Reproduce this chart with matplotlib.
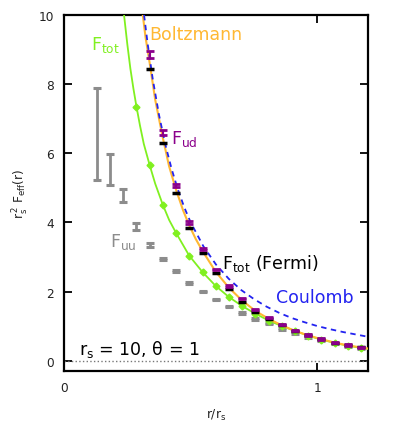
import numpy as np
import matplotlib.pyplot as plt

# r/r_s grid of the simulation points
x_pts = [0.129, 0.181, 0.233, 0.286, 0.338, 0.390, 0.442, 0.494, 0.547, 0.599, 0.651,
         0.703, 0.755, 0.808, 0.860, 0.912, 0.964, 1.016, 1.069, 1.121, 1.173]

# F_uu (gray), all points
uu_y = [6.56, 5.53, 4.78, 3.89, 3.35, 2.93, 2.59, 2.25, 2.00, 1.77, 1.57,
        1.38, 1.21, 1.07, 0.92, 0.80, 0.68, 0.58, 0.49, 0.42, 0.36]
uu_err = [1.32, 0.44, 0.19, 0.10, 0.06, 0.03, 0.02, 0.02, 0.02, 0.02, 0.02,
          0.02, 0.02, 0.02, 0.02, 0.02, 0.02, 0.02, 0.02, 0.02, 0.02]

# F_ud (purple), from 5th point
ud_y = [8.85, 6.61, 5.07, 4.00, 3.22, 2.63, 2.16, 1.79, 1.48, 1.24, 1.04,
        0.87, 0.74, 0.63, 0.53, 0.45, 0.38]
ud_err = [0.10, 0.07, 0.05, 0.04, 0.03, 0.02, 0.02, 0.02, 0.02, 0.02, 0.02,
          0.02, 0.02, 0.02, 0.02, 0.02, 0.02]

# F_tot Fermi (black), from 5th point
fermi_y = [8.44, 6.29, 4.86, 3.84, 3.12, 2.53, 2.08, 1.71, 1.42, 1.21, 1.02,
           0.86, 0.73, 0.62, 0.52, 0.44, 0.38]

# F_tot (green points), from 4th point
tot_y = [7.35, 5.66, 4.51, 3.70, 3.04, 2.56, 2.16, 1.84, 1.58, 1.36, 1.16,
         1.00, 0.86, 0.71, 0.60, 0.50, 0.43, 0.37]

# smooth curves
tot_cx = [0.237, 0.250, 0.262, 0.274, 0.286, 0.300, 0.315, 0.338, 0.36, 0.390, 0.415, 0.442,
          0.494, 0.547, 0.599, 0.651, 0.703, 0.755, 0.808, 0.860, 0.912, 0.964,
          1.016, 1.069, 1.121, 1.173, 1.2]
tot_cy = [10.0, 9.15, 8.45, 7.87, 7.35, 6.80, 6.27, 5.66, 5.12, 4.51, 4.07, 3.70,
          3.04, 2.56, 2.16, 1.84, 1.58, 1.36, 1.16, 1.00, 0.86, 0.72,
          0.61, 0.51, 0.43, 0.37, 0.34]

boltz_cx = [0.311, 0.322, 0.338, 0.36, 0.390, 0.415, 0.442, 0.47, 0.494, 0.52, 0.547, 0.599,
            0.651, 0.703, 0.755, 0.808, 0.860, 0.912, 0.964, 1.016, 1.069,
            1.121, 1.173, 1.2]
boltz_cy = [10.0, 9.35, 8.62, 7.55, 6.45, 5.62, 4.95, 4.35, 3.92, 3.52, 3.17, 2.57,
            2.11, 1.74, 1.44, 1.21, 1.02, 0.86, 0.73, 0.62, 0.52,
            0.44, 0.38, 0.35]

coul_cx = [0.316, 0.33, 0.35, 0.375, 0.40, 0.425, 0.45, 0.475, 0.50, 0.55, 0.60, 0.65,
           0.70, 0.75, 0.80, 0.85, 0.90, 0.95, 1.00, 1.05, 1.10, 1.15, 1.20]
coul_cy = [10.0, 9.18, 8.16, 7.11, 6.25, 5.54, 4.94, 4.43, 4.00, 3.31, 2.78, 2.37,
           2.04, 1.78, 1.56, 1.38, 1.23, 1.11, 1.00, 0.91, 0.83, 0.76, 0.69]

green = '#80f020'
orange = '#ffb833'
blue = '#2323f0'
purple = '#8b008b'
gray = '#8c8c8c'

fig = plt.figure(figsize=(3.95, 4.39), dpi=100)
ax = fig.add_axes([64/395, 1-372/439, 304/395, 356/439])

ax.axhline(0, color='#777777', ls=':', lw=1)

ax.errorbar(x_pts, uu_y, yerr=uu_err, fmt='none', ecolor=gray,
            elinewidth=2, capsize=3, capthick=2.2, zorder=3)
ax.plot(tot_cx, tot_cy, color=green, lw=1.3, zorder=4)
ax.plot(x_pts[3:], tot_y, 'D', color=green, ms=3.5, zorder=4)
ax.plot(boltz_cx, boltz_cy, color=orange, lw=1.5, zorder=5)
ax.plot(coul_cx, coul_cy, color=blue, lw=1.3, ls=(0, (3, 2.5)), zorder=6)
ax.plot(x_pts[4:], fermi_y, '_', color='black', ms=6, mew=2.5, zorder=7)
ax.errorbar(x_pts[4:], ud_y, yerr=ud_err, fmt='none', ecolor=purple,
            elinewidth=1.5, capsize=3, capthick=2, zorder=8)

fs = 12.5
ax.text(0.107, 9.15, r'$\mathregular{F_{tot}}$', color=green, fontsize=fs, va='center')
ax.text(0.337, 9.45, 'Boltzmann', color=orange, fontsize=fs, va='center')
ax.text(0.424, 6.45, r'$\mathregular{F_{ud}}$', color=purple, fontsize=fs, va='center')
ax.text(0.181, 3.45, r'$\mathregular{F_{uu}}$', color=gray, fontsize=fs, va='center')
ax.text(0.622, 2.85, r'$\mathregular{F_{tot}}$ (Fermi)', color='black', fontsize=fs, va='center')
ax.text(0.835, 1.85, 'Coulomb', color=blue, fontsize=fs, va='center')
ax.text(0.058, 0.35, r'$\mathregular{r_s}$ = 10, θ = 1', color='black', fontsize=fs, va='center')

ax.set_xlim(0, 1.2)
ax.set_ylim(-0.3, 10)
ax.set_xticks([0, 1])
ax.set_yticks([0, 2, 4, 6, 8, 10])
ax.tick_params(direction='in', top=True, right=True, length=6, width=1.3,
               labelsize=8.7, labelcolor='#222222')
ax.tick_params(axis='x', pad=7.5)
ax.tick_params(axis='y', pad=7)
for s in ax.spines.values():
    s.set_linewidth(1.6)

ax.set_xlabel(r'$\mathregular{r/r_s}$', fontsize=8.7, labelpad=9, color='#222222')
ax.set_ylabel(r'$\mathregular{r_s^{\,2}\ F_{eff}(r)}$', fontsize=8.7, labelpad=6, color='#222222')

fig.savefig('out.png', dpi=100)
